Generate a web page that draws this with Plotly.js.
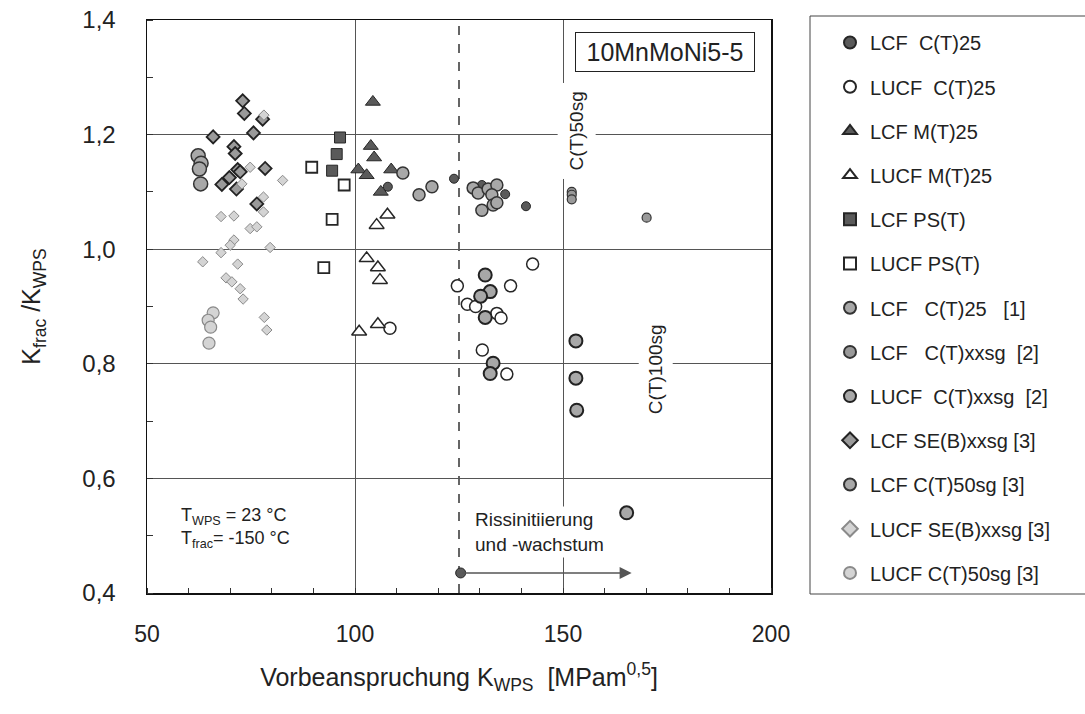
<!DOCTYPE html>
<html><head><meta charset="utf-8">
<script src="https://cdn.plot.ly/plotly-3.0.1.min.js"></script>
<style>html,body{margin:0;padding:0;background:#fff;} #chart{width:1085px;height:714px;}</style>
</head><body><div id="chart"></div>
<script>
// ---- data ----
const seriesNames = [
  'LCF  C(T)25', 'LUCF  C(T)25', 'LCF M(T)25', 'LUCF M(T)25', 'LCF PS(T)', 'LUCF PS(T)',
  'LCF   C(T)25   [1]', 'LCF   C(T)xxsg  [2]', 'LUCF  C(T)xxsg  [2]', 'LCF SE(B)xxsg [3]',
  'LCF C(T)50sg [3]', 'LUCF SE(B)xxsg [3]', 'LUCF C(T)50sg [3]'
];
const lcfCT25X = [123.8, 130.5, 136.1, 141.1, 107.9];
const lcfCT25Y = [1.123, 1.112, 1.096, 1.075, 1.109];
const lucfCT25X = [108.4, 142.7, 124.6, 137.4, 127.0, 129.0, 134.1, 135.1, 130.6, 136.5];
const lucfCT25Y = [0.862, 0.974, 0.936, 0.936, 0.904, 0.900, 0.888, 0.880, 0.824, 0.782];
const lcfMT25X = [104.3, 103.8, 104.6, 100.8, 102.8, 108.7, 106.2];
const lcfMT25Y = [1.257, 1.180, 1.160, 1.139, 1.129, 1.139, 1.100];
const lucfMT25X = [107.8, 105.2, 102.8, 105.5, 106.0, 101.0, 105.5];
const lucfMT25Y = [1.060, 1.042, 0.984, 0.968, 0.946, 0.856, 0.869];
const lcfPSTX = [96.4, 95.6, 94.5];
const lcfPSTY = [1.195, 1.166, 1.137];
const lucfPSTX = [89.6, 97.4, 94.5, 92.5];
const lucfPSTY = [1.143, 1.112, 1.052, 0.968];
const lcfCT25r1X = [111.5, 115.4, 118.5, 128.4, 129.6, 132.0, 134.1, 132.9, 130.5, 133.2, 134.1];
const lcfCT25r1Y = [1.133, 1.095, 1.109, 1.107, 1.098, 1.105, 1.112, 1.095, 1.068, 1.077, 1.081];
const lcfCTxxr2X = [152.1, 152.1, 152.1, 170.1];
const lcfCTxxr2Y = [1.100, 1.095, 1.087, 1.055];
const lucfCTxxr2X = [131.3, 132.5, 130.2, 131.3, 133.2, 132.5, 153.1, 153.1, 153.3, 165.3];
const lucfCTxxr2Y = [0.955, 0.926, 0.918, 0.881, 0.801, 0.783, 0.840, 0.775, 0.719, 0.540];
const lcfSEBr3X = [73.0, 73.4, 77.8, 65.9, 75.6, 70.9, 71.2, 78.4, 71.8, 72.4, 69.8, 68.0, 71.5, 76.4];
const lcfSEBr3Y = [1.259, 1.237, 1.227, 1.196, 1.203, 1.179, 1.167, 1.141, 1.139, 1.135, 1.125, 1.113, 1.105, 1.079];
const lcfCT50r3X = [62.3, 63.0, 62.6, 62.9];
const lcfCT50r3Y = [1.163, 1.150, 1.140, 1.114];
const lucfSEBr3X = [78.1, 74.8, 82.6, 72.8, 78.0, 78.0, 67.8, 70.9, 74.8, 76.4, 70.9, 70.0, 67.8, 79.6, 63.4, 71.8, 69.0, 70.4, 72.4, 73.1, 78.2, 78.8];
const lucfSEBr3Y = [1.234, 1.143, 1.120, 1.114, 1.091, 1.065, 1.057, 1.058, 1.036, 1.039, 1.016, 1.007, 0.994, 1.003, 0.978, 0.974, 0.950, 0.943, 0.931, 0.913, 0.881, 0.859];
const lucfCT50r3X = [65.9, 64.7, 65.3, 64.9];
const lucfCT50r3Y = [0.889, 0.876, 0.864, 0.836];
const arrowStartX = [125.4];
const arrowStartY = [0.435];
const arrowEndX = 166.5;
const xTickVals = [50, 100, 150, 200];
const yTickVals = [0.4, 0.6, 0.8, 1.0, 1.2, 1.4];

// ---- styles ----
const FONT = 'Arial, "Liberation Sans", sans-serif';
const DARK = '#5a5a5a', GRAY = '#a8a8a8', LIGHT = '#d4d4d4', EDGE = '#262626';

function tr(i, xs, ys, symbol, size, fill, lineColor, lineWidth) {
  return {
    type: 'scatter', mode: 'markers', name: seriesNames[i], x: xs, y: ys,
    legendgroup: 'g' + i, cliponaxis: false,
    marker: { symbol: symbol, size: size, color: fill, line: { color: lineColor, width: lineWidth } }
  };
}

const traces = [
  tr(0, lcfCT25X, lcfCT25Y, 'circle', 9, DARK, EDGE, 1),
  tr(1, lucfCT25X, lucfCT25Y, 'circle', 12, '#ffffff', EDGE, 1.5),
  tr(2, lcfMT25X, lcfMT25Y, 'triangle-up', 13, DARK, EDGE, 1),
  tr(3, lucfMT25X, lucfMT25Y, 'triangle-up', 13, '#ffffff', EDGE, 1.5),
  tr(4, lcfPSTX, lcfPSTY, 'square', 11, DARK, EDGE, 1),
  tr(5, lucfPSTX, lucfPSTY, 'square', 11, '#ffffff', EDGE, 1.8),
  tr(6, lcfCT25r1X, lcfCT25r1Y, 'circle', 12, GRAY, '#333', 1.5),
  tr(7, lcfCTxxr2X, lcfCTxxr2Y, 'circle', 9, '#999999', '#333', 1.2),
  tr(8, lucfCTxxr2X, lucfCTxxr2Y, 'circle', 13, GRAY, '#222', 2),
  tr(9, lcfSEBr3X, lcfSEBr3Y, 'diamond', 10, '#9a9a9a', '#222', 1.8),
  tr(10, lcfCT50r3X, lcfCT50r3Y, 'circle', 14, GRAY, '#333', 1.5),
  tr(11, lucfSEBr3X, lucfSEBr3Y, 'diamond', 8, LIGHT, '#8a8a8a', 1),
  tr(12, lucfCT50r3X, lucfCT50r3Y, 'circle', 12, LIGHT, '#8a8a8a', 1.2),
  { type: 'scatter', mode: 'markers', x: arrowStartX, y: arrowStartY, showlegend: false, cliponaxis: false,
    marker: { symbol: 'circle', size: 10, color: DARK, line: { color: EDGE, width: 1 } } }
];

const L = 147, R = 314, T = 20, B = 121, W = 1085, H = 714;
const pw = W - L - R, ph = H - T - B;
const px2paperX = p => (p - L) / pw;
const px2paperY = p => 1 - (p - T) / ph;

const layout = {
  width: W, height: H,
  margin: { l: L, r: R, t: T, b: B, pad: 0 },
  paper_bgcolor: '#ffffff', plot_bgcolor: '#ffffff',
  separators: ',.',
  font: { family: FONT, color: '#222', size: 18 },
  showlegend: true,
  xaxis: {
    range: [50, 200], tickvals: xTickVals, showgrid: true, gridcolor: '#555', gridwidth: 1,
    zeroline: false, showline: true, mirror: true, linecolor: '#111', linewidth: 1.5,
    ticks: '', ticklabelstandoff: 20, tickfont: { size: 23, color: '#222' },
    minor: { dtick: 10, tick0: 50, ticks: 'inside', ticklen: 5, tickcolor: '#333', tickwidth: 1, showgrid: false },
    title: { text: 'Vorbeanspruchung K<sub>WPS</sub>  [MPam<sup>0,5</sup>]', font: { size: 25, color: '#222' }, standoff: 22 }
  },
  yaxis: {
    range: [0.4, 1.4], tickvals: yTickVals, tickformat: '.1f', showgrid: true, gridcolor: '#555', gridwidth: 1,
    zeroline: false, showline: true, mirror: true, linecolor: '#111', linewidth: 1.5,
    ticks: '', ticklabelstandoff: 25, tickfont: { size: 24, color: '#222' },
    minor: { dtick: 0.1, tick0: 0.4, ticks: 'inside', ticklen: 6, tickcolor: '#333', tickwidth: 1, showgrid: false },
    title: { text: 'K<sub>frac</sub> /K<sub>WPS</sub>', font: { size: 25, color: '#222' }, standoff: 34 }
  },
  legend: {
    x: px2paperX(830), xanchor: 'left', y: px2paperY(23), yanchor: 'top',
    font: { size: 20, family: FONT, color: '#222' }, bgcolor: 'rgba(0,0,0,0)', borderwidth: 0,
    itemsizing: 'constant', traceorder: 'grouped', tracegroupgap: 15.2
  },
  shapes: [
    { type: 'rect', xref: 'paper', yref: 'paper', x0: px2paperX(810), x1: px2paperX(1095),
      y0: px2paperY(594), y1: px2paperY(16), line: { color: '#444', width: 1 }, fillcolor: 'rgba(0,0,0,0)' },
    { type: 'line', xref: 'x', yref: 'paper', x0: arrowStartX[0] - 0.4, x1: arrowStartX[0] - 0.4, y0: 0, y1: 1,
      line: { color: '#333', width: 1.5, dash: 'dash' }, layer: 'below' }
  ],
  annotations: [
    { xref: 'x', yref: 'y', x: 174.5, y: 1.344, text: '10MnMoNi5-5', showarrow: false,
      font: { size: 25, color: '#222' }, bordercolor: '#222', borderwidth: 1, bgcolor: '#fff', width: 176, height: 36, borderpad: 1 },
    { xref: 'x', yref: 'y', x: 153.2, y: 1.206, text: 'C(T)50sg', textangle: -90, showarrow: false,
      font: { size: 19, color: '#222' }, bgcolor: '#fff', borderpad: 8 },
    { xref: 'x', yref: 'y', x: 172.4, y: 0.791, text: 'C(T)100sg', textangle: -90, showarrow: false,
      font: { size: 19, color: '#222' }, bgcolor: '#fff', borderpad: 6 },
    { xref: 'x', yref: 'y', x: 128.2, y: 0.506, xanchor: 'left', text: 'Rissinitiierung<br>und -wachstum', align: 'left',
      showarrow: false, font: { size: 19, color: '#222' }, bgcolor: '#fff', borderpad: 2 },
    { xref: 'x', yref: 'y', x: 57.8, y: 0.514, xanchor: 'left', text: 'T<sub>WPS</sub> = 23 °C<br>T<sub>frac</sub>= -150 °C', align: 'left',
      showarrow: false, font: { size: 18, color: '#222' } },
    { xref: 'x', yref: 'y', axref: 'x', ayref: 'y', x: arrowEndX, y: arrowStartY[0], ax: arrowStartX[0], ay: arrowStartY[0],
      text: '', showarrow: true, arrowhead: 2, arrowsize: 1.6, arrowwidth: 1.5, arrowcolor: '#555' }
  ]
};

Plotly.newPlot('chart', traces, layout, { displayModeBar: false, staticPlot: true });
</script></body></html>
